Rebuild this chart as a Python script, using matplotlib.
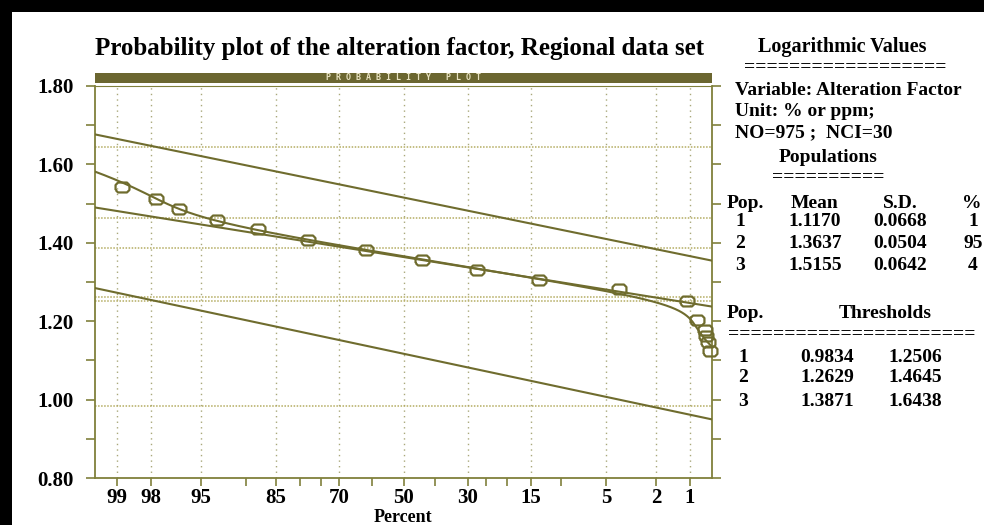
import numpy as np
from statistics import NormalDist
from matplotlib import pyplot as plt
from matplotlib.patches import Rectangle

plt.rcParams['font.family'] = ['Liberation Serif', 'DejaVu Serif']
plt.rcParams['font.weight'] = 'bold'

# fitted populations (logarithmic values)
pops = [1, 2, 3]
means = [1.1170, 1.3637, 1.5155]
sds = [0.0668, 0.0504, 0.0642]
weights = [1, 95, 4]
thr_low = [0.9834, 1.2629, 1.3871]
thr_high = [1.2506, 1.4645, 1.6438]

# cumulative percent of the observed class boundaries
obs_pct = [98.9, 97.8, 96.6, 93.5, 88.2, 78.2, 61.9, 44.0, 27.4, 13.6,
           4.0, 1.07, 0.85, 0.72, 0.69, 0.67, 0.63]
obs_val = [1.542, 1.513, 1.486, 1.459, 1.434, 1.407, 1.382, 1.356, 1.331, 1.305,
           1.282, 1.252, 1.203, 1.178, 1.162, 1.148, 1.124]

tick_pct = [99, 98, 95, 90, 85, 80, 75, 70, 60, 50, 40, 30, 25, 20, 15, 10, 5, 2, 1]
label_pct = [99, 98, 95, 85, 70, 50, 30, 15, 5, 2, 1]

OLIVE = '#6f6c2e'
SPINE = '#80803c'
GRID = '#a9a87a'
THR = '#b4ac62'

nd = NormalDist()


def pct_to_x(p):
    return np.array([-nd.inv_cdf(v / 100.0) for v in np.atleast_1d(p)])


fig = plt.figure(figsize=(9.84, 5.25), dpi=100)
ax = fig.add_axes([95 / 984, 1 - 478 / 525, (712 - 95) / 984, (478 - 86) / 525])
xlim = (-2.508, 2.508)
ax.set_xlim(xlim)
ax.set_ylim(0.80, 1.80)

# dotted grid on labelled percents and on the thresholds
for x in pct_to_x(label_pct):
    ax.axvline(x, color=GRID, lw=1.0, ls=(0, (1, 3)), zorder=1)
for t in thr_low + thr_high:
    ax.axhline(t, color=THR, lw=1.1, ls=(0, (1, 1)), zorder=1)

# straight lines for each population
xs = np.array(xlim)
for m, s in zip(means, sds):
    ax.plot(xs, m - s * xs, color=OLIVE, lw=1.5, zorder=3)

# mixture curve
v = np.linspace(0.8, 1.8, 2000)
F = np.zeros_like(v)
for m, s, w in zip(means, sds, weights):
    F += w / 100.0 * np.array([nd.cdf((vi - m) / s) for vi in v])
ok = (F > 1e-6) & (F < 1 - 1e-6)
cx = -np.array([nd.inv_cdf(f) for f in F[ok]])
ax.plot(cx, v[ok], color=OLIVE, lw=1.5, zorder=3, clip_on=True)

# observed points
marker = [(-0.7, -0.25), (-0.45, -0.5), (0.45, -0.5), (0.7, -0.25),
          (0.7, 0.25), (0.45, 0.5), (-0.45, 0.5), (-0.7, 0.25), (-0.7, -0.25)]
ax.plot(pct_to_x(obs_pct), obs_val, ls='none', marker=marker, ms=10,
        mfc='none', mec=OLIVE, mew=1.6, zorder=4, clip_on=False)

# axes styling
for sp in ax.spines.values():
    sp.set_color(SPINE)
    sp.set_linewidth(1.3)
ax.spines['top'].set_linewidth(0.8)

ax.set_yticks([0.8, 1.0, 1.2, 1.4, 1.6, 1.8])
ax.set_yticklabels(['0.80', '1.00', '1.20', '1.40', '1.60', '1.80'])
ax.set_yticks(np.arange(0.9, 1.8, 0.2), minor=True)
ax.tick_params(axis='y', which='both', direction='out', length=6.5, width=1.2,
               color=SPINE, left=True, right=True, labelsize=15, pad=9)

ax.set_xticks(pct_to_x(label_pct))
ax.set_xticklabels([str(p) for p in label_pct])
ax.set_xticks(pct_to_x([p for p in tick_pct if p not in label_pct]), minor=True)
ax.tick_params(axis='x', which='both', direction='out', length=6, width=1.2,
               color=SPINE, labelsize=15, pad=1.5)
fig.text(403 / 984, 1 - 518 / 525, 'Percent', ha='center', va='center', fontsize=13)

# header bar
fig.add_artist(Rectangle((95 / 984, 1 - 83 / 525), (712 - 95) / 984, 10 / 525,
                         transform=fig.transFigure, color='#6b6630', lw=0))
fig.text(403 / 984, 1 - 78 / 525, 'P R O B A B I L I T Y   P L O T', ha='center',
         va='center', fontsize=6, color='#e8e2c0', family='DejaVu Sans Mono')

fig.text(400 / 984, 1 - 48 / 525,
         'Probability plot of the alteration factor, Regional data set',
         ha='center', va='center', fontsize=18)

# black frame on top and left
fig.add_artist(Rectangle((0, 1 - 12 / 525), 1, 12 / 525, transform=fig.transFigure,
                         color='black', lw=0))
fig.add_artist(Rectangle((0, 0), 12 / 984, 1, transform=fig.transFigure,
                         color='black', lw=0))


def t(x, y, s, ha='left', size=14):
    fig.text(x / 984, 1 - y / 525, s, ha=ha, va='center', fontsize=size)


t(842, 47, 'Logarithmic Values', 'center', 14.5)
t(845, 67, '==================', 'center')
t(735, 90, 'Variable: Alteration Factor')
t(735, 112, 'Unit: % or ppm;')
t(735, 133, 'NO=975 ;  NCI=30')
t(828, 158, 'Populations', 'center')
t(828, 177, '==========', 'center')

t(727, 203, 'Pop.')
t(815, 203, 'Mean', 'center')
t(900, 203, 'S.D.', 'center')
t(972, 203, '%', 'center')
for i, y in enumerate([222, 243, 266]):
    t(740, y, str(pops[i]), 'center')
    t(815, y, f'{means[i]:.4f}', 'center')
    t(900, y, f'{sds[i]:.4f}', 'center')
    t(973, y, str(weights[i]), 'center')

t(727, 313, 'Pop.')
t(885, 313, 'Thresholds', 'center')
t(728, 334, '=' * 22)
for i, y in enumerate([357, 378, 401]):
    t(743, y, str(pops[i]), 'center')
    t(827, y, f'{thr_low[i]:.4f}', 'center')
    t(915, y, f'{thr_high[i]:.4f}', 'center')

fig.savefig('out.png', dpi=100)
